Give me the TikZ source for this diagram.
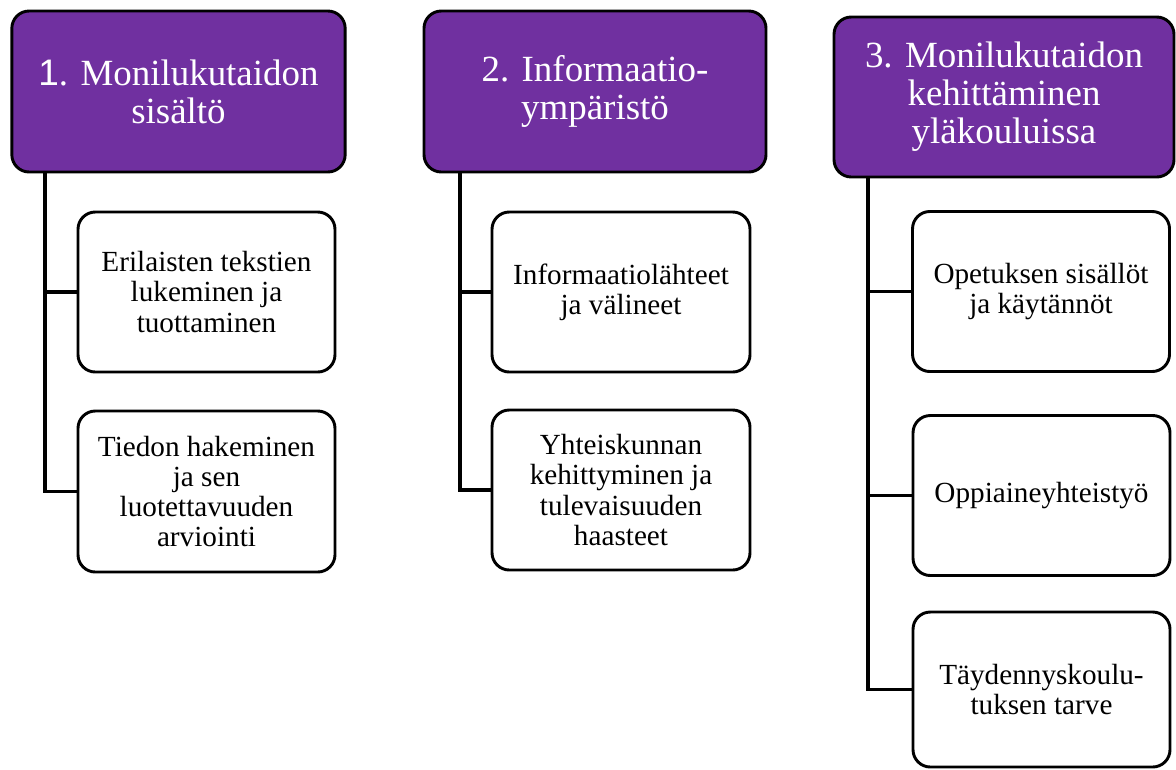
\documentclass[tikz,border=0pt]{standalone}
\usepackage{fontspec}
\setmainfont{Liberation Serif}
\newfontfamily\arialfont{Liberation Sans}
\definecolor{headpurple}{HTML}{7030A0}
\tikzset{
  head/.style={draw=black,fill=headpurple,text=white,line width=2.2pt,rounded corners=13pt,
    inner sep=0pt,outer sep=0pt,minimum width=250pt,minimum height=120.75pt,align=center,
    font=\fontsize{27.7}{28.5}\selectfont},
  item/.style={draw=black,fill=white,line width=2.2pt,rounded corners=13pt,
    inner sep=0pt,outer sep=0pt,minimum width=192.75pt,minimum height=120pt,align=center,
    font=\fontsize{21.9}{22.6}\selectfont},
  trunk/.style={line width=2.4pt}
}
\begin{document}
\begin{tikzpicture}[x=0.75pt,y=-0.75pt]
  \useasboundingbox (0,0) rectangle (1176,769);
  % headers
  \node[head] (h1) at (178.5,91.5) {{\arialfont 1}. Monilukutaidon\\sisältö};
  \node[head,minimum width=256.5pt] (h2) at (595,91.5) {2. Informaatio-\\ympäristö};
  \node[head,minimum width=255pt,minimum height=120pt] (h3) at (1004,97) {3. Monilukutaidon\\kehittäminen\\yläkouluissa};
  % column 1
  \node[item] (c1a) at (206.5,292) {Erilaisten tekstien\\lukeminen ja\\tuottaminen};
  \node[item,minimum height=120.75pt] (c1b) at (206.5,491.5) {Tiedon hakeminen\\ja sen\\luotettavuuden\\arviointi};
  % column 2
  \node[item,minimum width=193.5pt] (c2a) at (621,292) {Informaatiolähteet\\ja välineet};
  \node[item,minimum width=193.5pt] (c2b) at (621,490) {Yhteiskunnan\\kehittyminen ja\\tulevaisuuden\\haasteet};
  % column 3
  \node[item] (c3a) at (1041,291.5) {Opetuksen sisällöt\\ja käytännöt};
  \node[item] (c3b) at (1041.5,495.5) {Oppiaineyhteistyö};
  \node[item,minimum height=116.25pt] (c3c) at (1041.5,689.5) {Täydennyskoulu-\\tuksen tarve};
  % trunks
  \coordinate (t1) at (45,172);
  \coordinate (t2) at (460,172);
  \coordinate (t3) at (868,177);
  \draw[trunk] (t1) |- (c1a.west);
  \draw[trunk] (t1) |- (c1b.west);
  \draw[trunk] (t2) |- (c2a.west);
  \draw[trunk] (t2) |- (c2b.west);
  \draw[trunk] (t3) |- (c3a.west);
  \draw[trunk] (t3) |- (c3b.west);
  \draw[trunk] (t3) |- (c3c.west);
\end{tikzpicture}
\end{document}
